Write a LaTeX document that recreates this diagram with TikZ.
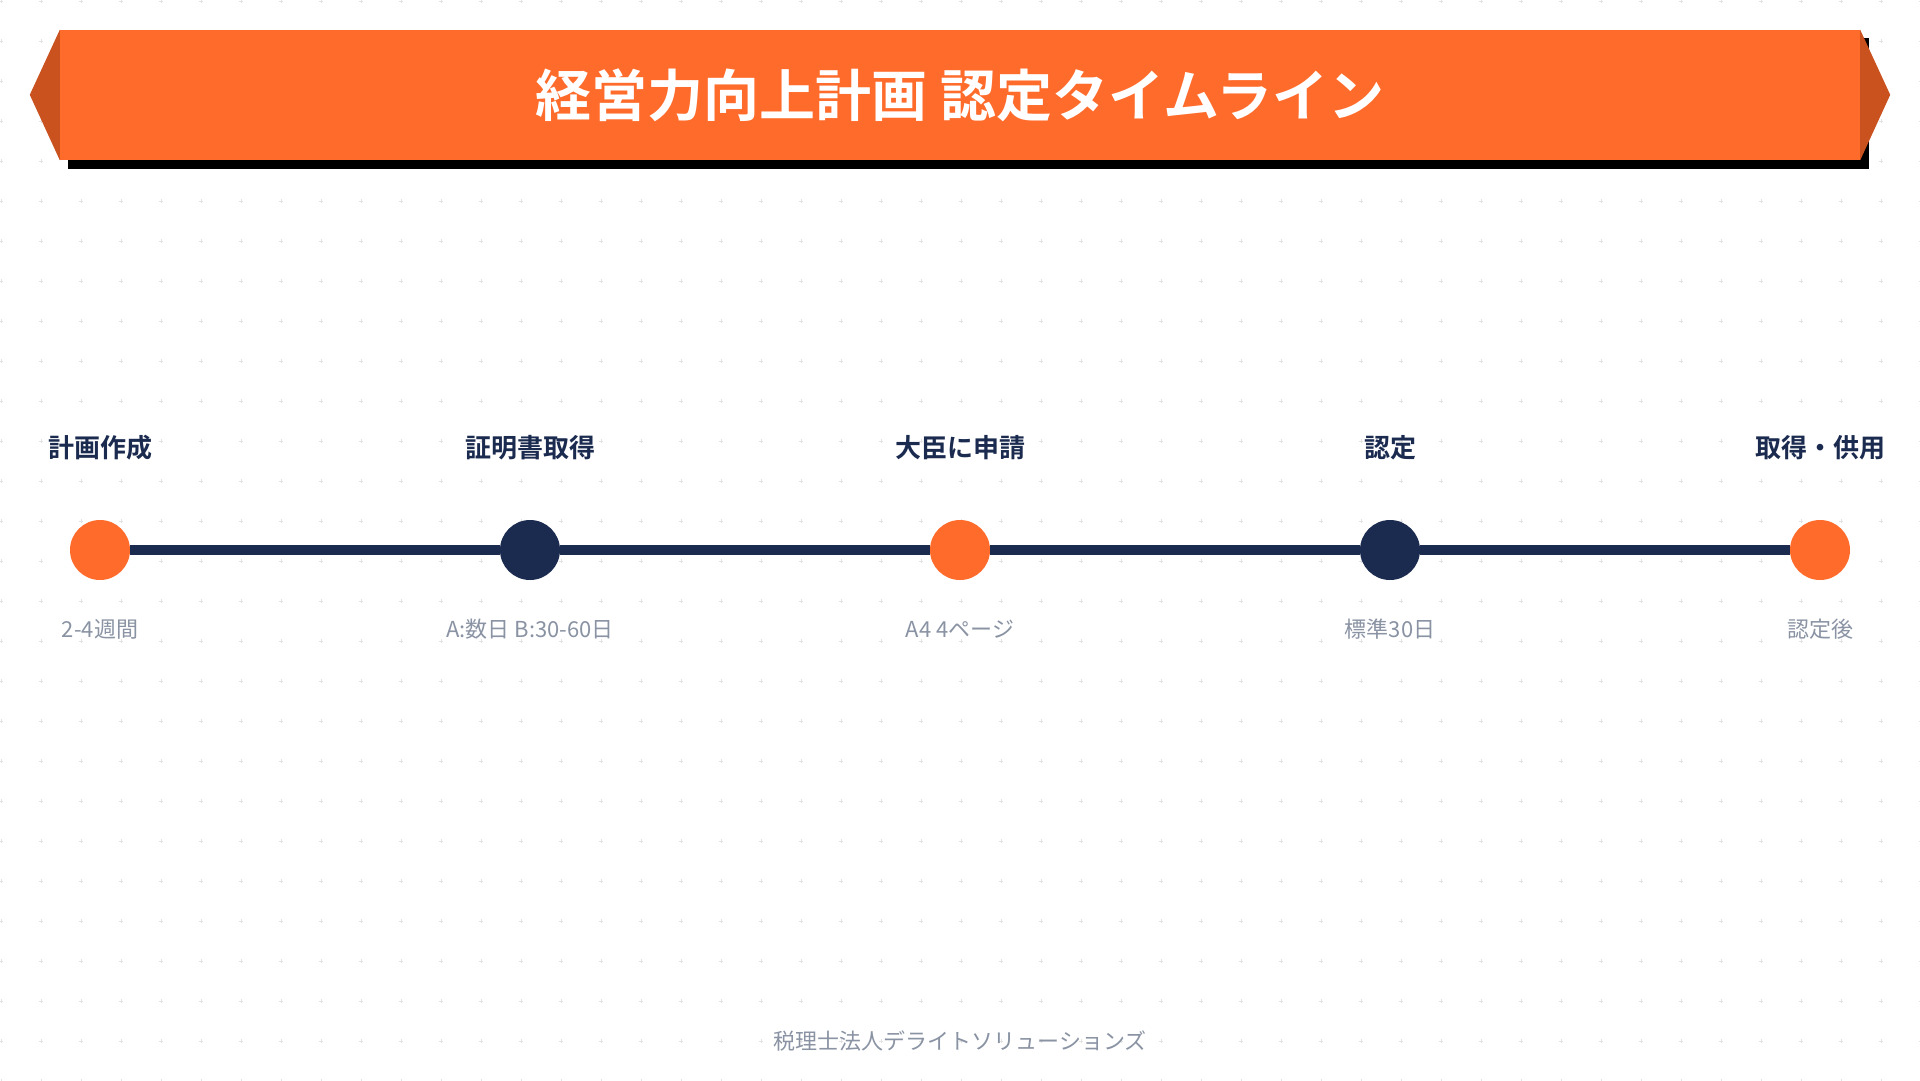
\documentclass[tikz,border=0pt]{standalone}
\usepackage{fontspec}
\setmainfont{Noto Sans CJK JP}[BoldFont={* Bold}]
\usepackage{tikz}
\usetikzlibrary{shapes,arrows}
\usetikzlibrary{positioning}
\definecolor{orng}{HTML}{FF6B2B}
\definecolor{orngdark}{HTML}{C9521F}
\definecolor{navy}{HTML}{1B2B50}
\definecolor{greytxt}{HTML}{8A93A3}
\definecolor{gridgrey}{HTML}{E2E2E2}
\tikzstyle{milestone} = [draw=none, circle, fill=orng, minimum size=60pt, inner sep=0pt]
\tikzstyle{steptitle} = [text=navy, font=\bfseries\fontsize{26}{30}\selectfont, inner sep=0pt]
\tikzstyle{steplabel} = [text=greytxt, font=\fontsize{22}{26}\selectfont, inner sep=0pt]
\tikzstyle{link} = [draw=navy, line width=10pt]

\begin{document}
\begin{tikzpicture}[x=1pt, y=-1pt, node distance = 430pt]
  \useasboundingbox (0,0) rectangle (1920,1080);
  \fill[white] (0,0) rectangle (1920,1080);
  \foreach \gx in {1,41,...,1921}
    \foreach \gy in {1,41,...,1081}
      \draw[gridgrey, line width=1pt] (\gx-2,\gy) -- (\gx+2,\gy) (\gx,\gy-2) -- (\gx,\gy+2);
  \fill[black] (68,38) rectangle (1869,169);
  \node [fill=orng, minimum width=1800pt, minimum height=130pt, inner sep=0pt, text=white, font=\bfseries\fontsize{56}{60}\selectfont] (banner) at (960,95) {\raisebox{2pt}{経営力向上計画 認定タイムライン}};
  \fill[orngdark] (banner.north west) -- ++(-30,65) -- (banner.south west) -- cycle;
  \fill[orngdark] (banner.north east) -- ++(30,65) -- (banner.south east) -- cycle;

  \node [milestone] (m1) at (100,550) {};
  \node [milestone, fill=navy, right of=m1] (m2) {};
  \node [milestone, right of=m2] (m3) {};
  \node [milestone, fill=navy, right of=m3] (m4) {};
  \node [milestone, right of=m4] (m5) {};
  \foreach \a/\b in {m1/m2,m2/m3,m3/m4,m4/m5}
    \draw [link] (\a) -- (\b);

  \node [steptitle, above of=m1, node distance=102pt] (t1) {計画作成};
  \node [steptitle, above of=m2, node distance=102pt] (t2) {証明書取得};
  \node [steptitle, above of=m3, node distance=102pt] (t3) {大臣に申請};
  \node [steptitle, above of=m4, node distance=102pt] (t4) {認定};
  \node [steptitle, above of=m5, node distance=102pt] (t5) {取得・供用};
  \node [steplabel, below of=m1, node distance=79pt] (d1) {2-4週間};
  \node [steplabel, below of=m2, node distance=79pt] (d2) {A:数日 B:30-60日};
  \node [steplabel, below of=m3, node distance=79pt] (d3) {A4 4ページ};
  \node [steplabel, below of=m4, node distance=79pt] (d4) {標準30日};
  \node [steplabel, below of=m5, node distance=79pt] (d5) {認定後};

  \node [steplabel] (footer) at (960,1041) {税理士法人デライトソリューションズ};
\end{tikzpicture}
\end{document}
